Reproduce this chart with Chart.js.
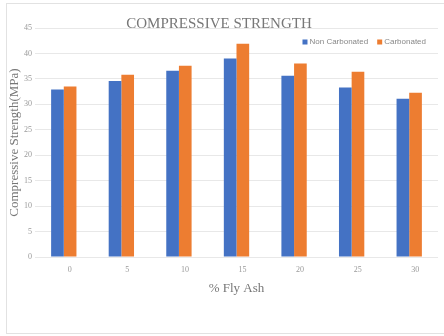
<!DOCTYPE html>
<html>
<head>
<meta charset="utf-8">
<script src="https://cdn.jsdelivr.net/npm/chart.js@4/dist/chart.umd.min.js"></script>
<style>
  html, body { margin: 0; padding: 0; background: #fff; overflow: hidden; }
  #frame { position: absolute; left: 6px; top: 3px; width: 450px; height: 331px; border: 1px solid #e2e2e2; box-sizing: border-box; }
  #wrap { position: absolute; left: 0; top: 0; width: 444px; height: 336px; }
</style>
</head>
<body>
<div id="frame"></div>
<div id="wrap"><canvas id="chart"></canvas></div>
<script>
// % fly ash replacement levels
const flyAsh = ['0', '5', '10', '15', '20', '25', '30'];
// compressive strength (MPa)
const nonCarbonated = [32.9, 34.6, 36.6, 39.0, 35.6, 33.3, 31.1];
const carbonated = [33.5, 35.8, 37.6, 41.9, 38.0, 36.4, 32.3];
const yTicks = [0, 5, 10, 15, 20, 25, 30, 35, 40, 45];

const serif = '"Liberation Serif", "Times New Roman", serif';
const sans = '"Liberation Sans", Arial, sans-serif';

// Excel-style legend sitting inside the plot, top right
const insideLegend = {
    id: 'insideLegend',
    afterDraw(chart) {
        const c = chart.ctx;
        const area = chart.chartArea;
        const y = area.top + 14;
        let x = area.right - 12;
        c.save();
        c.font = '8px ' + sans;
        c.textBaseline = 'middle';
        c.textAlign = 'left';
        const sets = chart.data.datasets.slice().reverse();
        sets.forEach((ds, i) => {
            const w = c.measureText(ds.label).width;
            x -= w;
            c.fillStyle = '#888';
            c.fillText(ds.label, x, y);
            x -= 7;
            c.fillStyle = ds.backgroundColor;
            c.fillRect(x, y - 2.5, 5, 5);
            x -= 9;
        });
        c.restore();
    }
};

const ctx = document.getElementById('chart').getContext('2d');
new Chart(ctx, {
    type: 'bar',
    data: {
        labels: flyAsh,
        datasets: [{
            label: 'Non Carbonated',
            data: nonCarbonated,
            backgroundColor: '#4472c4',
            barPercentage: 1,
            categoryPercentage: 0.44
        }, {
            label: 'Carbonated',
            data: carbonated,
            backgroundColor: '#ed7d31',
            barPercentage: 1,
            categoryPercentage: 0.44
        }]
    },
    options: {
        responsive: true,
        maintainAspectRatio: false,
        animation: false,
        layout: { padding: { left: 0, right: 6, top: 0, bottom: 40 } },
        scales: {
            x: {
                afterFit: axis => { axis.height = 39; },
                grid: { display: false, drawTicks: false },
                border: { display: false },
                ticks: { color: '#999', font: { family: serif, size: 8 }, padding: 8, labelOffset: 6 },
                title: {
                    display: true,
                    text: '% Fly Ash',
                    color: '#777',
                    font: { family: serif, size: 13 },
                    padding: { top: 0, bottom: 0 }
                }
            },
            y: {
                min: 0,
                max: 45,
                afterFit: axis => { axis.width = 35; },
                afterBuildTicks: axis => { axis.ticks = yTicks.map(v => ({ value: v })); },
                grid: { color: '#e8e8e8', drawTicks: false },
                border: { display: false },
                ticks: { color: '#999', font: { family: serif, size: 8 }, padding: 3 },
                title: {
                    display: true,
                    text: 'Compressive Strength(MPa)',
                    color: '#777',
                    font: { family: serif, size: 13 },
                    padding: { top: 7, bottom: 0 }
                }
            }
        },
        plugins: {
            title: {
                display: true,
                text: 'COMPRESSIVE STRENGTH',
                color: '#777',
                font: { family: serif, size: 15, weight: 'normal' },
                padding: { top: 15, bottom: -5 }
            },
            legend: { display: false },
            tooltip: { enabled: false }
        }
    },
    plugins: [insideLegend]
});
</script>
</body>
</html>
